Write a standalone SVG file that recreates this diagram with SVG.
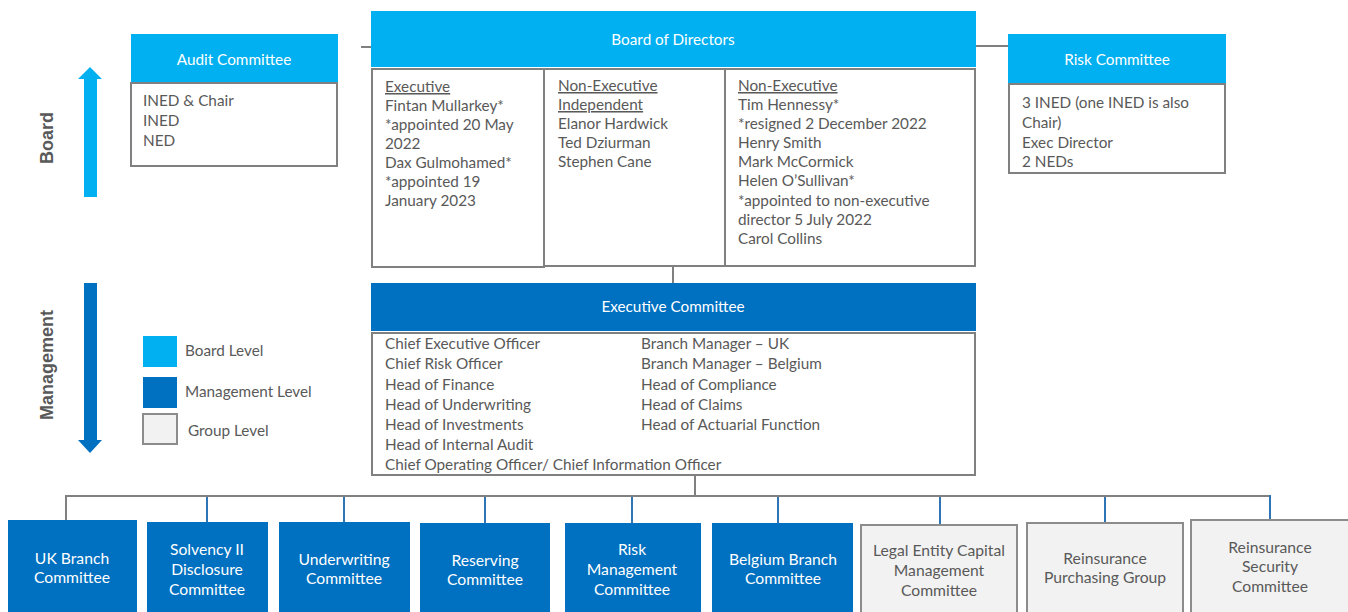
<svg xmlns="http://www.w3.org/2000/svg" width="1348" height="612" viewBox="0 0 1348 612">
<style>
text{font-family:Lato,"Liberation Sans",sans-serif;font-size:15.3px;fill:#595959}
.w{fill:#ffffff}
.c{text-anchor:middle}
.u{text-decoration:underline}
.bt{font-size:15.7px}
.lb{fill:#00B0F0}
.db{fill:#0070C0}
.body{fill:#ffffff;stroke:#808080;stroke-width:2}
.grp{fill:#F2F2F2;stroke:#8C8C8C;stroke-width:2}
.side{font-family:"Liberation Sans",sans-serif;font-weight:bold;font-size:18px;fill:#595959;text-anchor:middle}
.gl{stroke:#808080;stroke-width:2;fill:none}
.bl{stroke:#2E75B6;stroke-width:2;fill:none}
</style>

<g id="board-arrow">
<polygon class="lb" points="84,197 84,79 78,79 90,67 102,79 97,79 97,197"/>
<text class="side" transform="translate(53,138) rotate(-90)">Board</text>
</g>
<g id="mgmt-arrow">
<polygon class="db" points="84,283 97,283 97,440 102,440 90,453 78,440 84,440"/>
<text class="side" transform="translate(53,365) rotate(-90)">Management</text>
</g>

<g id="legend">
<rect x="143" y="336" width="34" height="31" class="lb"/>
<text x="185" y="356">Board Level</text>
<rect x="143" y="377" width="34" height="31" class="db"/>
<text x="185" y="397">Management Level</text>
<rect x="143" y="414" width="34" height="30" class="grp" stroke-width="1.5"/>
<text x="188" y="436">Group Level</text>
</g>

<g id="connectors">
<line class="gl" x1="361" y1="47" x2="396" y2="47"/>
<line class="gl" x1="976" y1="46" x2="1008" y2="46"/>
<line class="gl" x1="673" y1="262" x2="673" y2="283"/>
<line class="gl" x1="695" y1="475" x2="695" y2="496"/>
<line class="gl" x1="66" y1="496" x2="1271" y2="496"/>
<line class="gl" x1="66" y1="495" x2="66" y2="520"/>
<line class="bl" x1="207" y1="497" x2="207" y2="523"/>
<line class="bl" x1="344" y1="497" x2="344" y2="522"/>
<line class="bl" x1="485" y1="497" x2="485" y2="523"/>
<line class="bl" x1="632" y1="497" x2="632" y2="523"/>
<line class="bl" x1="778" y1="497" x2="778" y2="523"/>
<line class="bl" x1="940" y1="497" x2="940" y2="525"/>
<line class="bl" x1="1105" y1="497" x2="1105" y2="523"/>
<line class="bl" x1="1270" y1="495" x2="1270" y2="520"/>
</g>

<g id="audit-committee">
<rect x="131" y="34" width="207" height="49" class="lb"/>
<text class="w c" x="234" y="65">Audit Committee</text>
<rect x="131" y="83" width="206" height="83" class="body"/>
<text x="143" y="106">INED &amp; Chair</text>
<text x="143" y="126">INED</text>
<text x="143" y="146">NED</text>
</g>

<g id="board-of-directors">
<rect x="371" y="11" width="605" height="56" class="lb"/>
<text class="w c" x="673" y="45">Board of Directors</text>
<rect x="372" y="69" width="172" height="198" class="body"/>
<rect x="544" y="69" width="181" height="197" class="body"/>
<rect x="725" y="69" width="250" height="197" class="body"/>
<text x="385" y="92" class="u">Executive</text>
<text x="385" y="111">Fintan Mullarkey*</text>
<text x="385" y="130">*appointed 20 May</text>
<text x="385" y="149">2022</text>
<text x="385" y="168">Dax Gulmohamed*</text>
<text x="385" y="187">*appointed 19</text>
<text x="385" y="206">January 2023</text>
<text x="558" y="91" class="u">Non-Executive</text>
<text x="558" y="110" class="u">Independent</text>
<text x="558" y="129">Elanor Hardwick</text>
<text x="558" y="148">Ted Dziurman</text>
<text x="558" y="167">Stephen Cane</text>
<text x="738" y="91" class="u">Non-Executive</text>
<text x="738" y="110">Tim Hennessy*</text>
<text x="738" y="129">*resigned 2 December 2022</text>
<text x="738" y="148">Henry Smith</text>
<text x="738" y="167">Mark McCormick</text>
<text x="738" y="186">Helen O’Sullivan*</text>
<text x="738" y="206">*appointed to non-executive</text>
<text x="738" y="225">director 5 July 2022</text>
<text x="738" y="244">Carol Collins</text>
</g>

<g id="risk-committee">
<rect x="1008" y="34" width="218" height="50" class="lb"/>
<text class="w c" x="1117" y="65">Risk Committee</text>
<rect x="1009" y="84" width="216" height="89" class="body"/>
<text x="1022" y="108">3 INED (one INED is also</text>
<text x="1022" y="128">Chair)</text>
<text x="1022" y="148">Exec Director</text>
<text x="1022" y="167">2 NEDs</text>
</g>

<g id="executive-committee">
<rect x="371" y="283" width="605" height="48" class="db"/>
<text class="w c" x="673" y="312">Executive Committee</text>
<rect x="372" y="333" width="603" height="142" class="body"/>
<text x="385" y="349">Chief Executive Officer</text>
<text x="385" y="369">Chief Risk Officer</text>
<text x="385" y="390">Head of Finance</text>
<text x="385" y="410">Head of Underwriting</text>
<text x="385" y="430">Head of Investments</text>
<text x="385" y="450">Head of Internal Audit</text>
<text x="385" y="470">Chief Operating Officer/ Chief Information Officer</text>
<text x="641" y="349">Branch Manager – UK</text>
<text x="641" y="369">Branch Manager – Belgium</text>
<text x="641" y="390">Head of Compliance</text>
<text x="641" y="410">Head of Claims</text>
<text x="641" y="430">Head of Actuarial Function</text>
</g>

<g id="uk-branch">
<rect x="8" y="520" width="129" height="95" class="db"/>
<text class="w c bt" x="72" y="564">UK Branch</text>
<text class="w c bt" x="72" y="583">Committee</text>
</g>
<g id="solvency">
<rect x="147" y="522" width="121" height="93" class="db"/>
<text class="w c bt" x="207" y="555">Solvency II</text>
<text class="w c bt" x="207" y="575">Disclosure</text>
<text class="w c bt" x="207" y="595">Committee</text>
</g>
<g id="underwriting">
<rect x="279" y="522" width="131" height="93" class="db"/>
<text class="w c bt" x="344" y="565">Underwriting</text>
<text class="w c bt" x="344" y="584">Committee</text>
</g>
<g id="reserving">
<rect x="420" y="523" width="130" height="92" class="db"/>
<text class="w c bt" x="485" y="566">Reserving</text>
<text class="w c bt" x="485" y="585">Committee</text>
</g>
<g id="risk-management">
<rect x="565" y="523" width="136" height="92" class="db"/>
<text class="w c bt" x="632" y="555">Risk</text>
<text class="w c bt" x="632" y="575">Management</text>
<text class="w c bt" x="632" y="595">Committee</text>
</g>
<g id="belgium-branch">
<rect x="712" y="523" width="141" height="92" class="db"/>
<text class="w c bt" x="783" y="565">Belgium Branch</text>
<text class="w c bt" x="783" y="584">Committee</text>
</g>
<g id="legal-entity">
<rect x="861" y="525" width="156" height="92" class="grp"/>
<text class="c bt" x="939" y="556">Legal Entity Capital</text>
<text class="c bt" x="939" y="576">Management</text>
<text class="c bt" x="939" y="596">Committee</text>
</g>
<g id="reinsurance-purchasing">
<rect x="1027" y="523" width="156" height="94" class="grp"/>
<text class="c bt" x="1105" y="564">Reinsurance</text>
<text class="c bt" x="1105" y="583">Purchasing Group</text>
</g>
<g id="reinsurance-security">
<rect x="1191" y="520" width="160" height="97" class="grp"/>
<text class="c bt" x="1270" y="553">Reinsurance</text>
<text class="c bt" x="1270" y="572">Security</text>
<text class="c bt" x="1270" y="592">Committee</text>
</g>
</svg>
